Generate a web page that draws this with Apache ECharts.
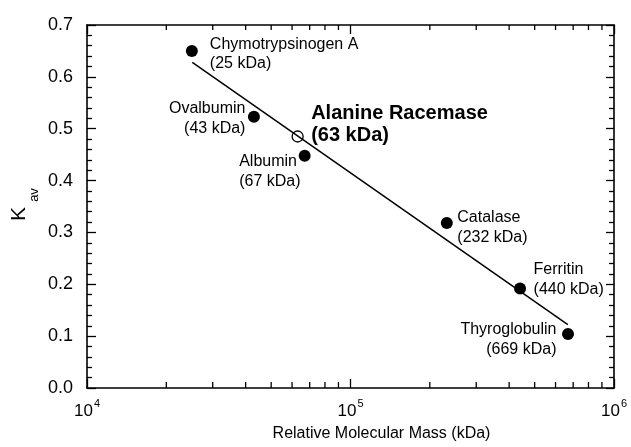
<!DOCTYPE html>
<html><head><meta charset="utf-8">
<script src="https://cdn.jsdelivr.net/npm/echarts@6.0.0/dist/echarts.min.js"></script>
<style>html,body{margin:0;padding:0;background:#fff}#c{width:631px;height:447px}</style>
</head><body><div id="c"></div>
<script>
// ---- data ----
const proteins = ['Chymotrypsinogen A', 'Ovalbumin', 'Albumin', 'Catalase', 'Ferritin', 'Thyroglobulin'];
const massKDa = [25, 43, 67, 232, 440, 669];
const kav = [0.650, 0.523, 0.448, 0.318, 0.192, 0.104];
const unknownName = 'Alanine Racemase';
const unknownMassKDa = 63;
const unknownKav = 0.485;
const fitMassKDa = [25.1, 668];
const fitKav = [0.628, 0.122];
const xMinorTicksKDa = [20, 30, 40, 50, 60, 70, 80, 90, 200, 300, 400, 500, 600, 700, 800, 900];
const xAxisName = 'Relative Molecular Mass (kDa)';
const yAxisNameMain = 'K';
const yAxisNameSub = 'av';

// ---- layout / style (kept apart from data) ----
const FONT = '"Liberation Sans", Arial, Helvetica, sans-serif';
const labelPlacement = {
  'Chymotrypsinogen A': { align: 'left', offset: [18, 3] },
  'Ovalbumin': { align: 'right', offset: [-8.5, 2] },
  'Albumin': { align: 'left', offset: [-65.5, 16] },
  'Catalase': { align: 'left', offset: [10.5, 4.5] },
  'Ferritin': { align: 'left', offset: [13.5, -9] },
  'Thyroglobulin': { align: 'right', offset: [-11.5, 5.5] }
};
const unknownPlacement = { align: 'left', offset: [13.5, -12] };

const chart = echarts.init(document.getElementById('c'), null, { renderer: 'canvas' });

const knownData = proteins.map((p, i) => ({
  value: [massKDa[i] * 1000, kav[i]],
  label: {
    show: true,
    position: 'inside',
    formatter: p + '\n(' + massKDa[i] + ' kDa)',
    align: labelPlacement[p].align,
    verticalAlign: 'middle',
    offset: labelPlacement[p].offset,
    fontSize: 16,
    lineHeight: 19.5,
    fontFamily: FONT,
    color: '#000'
  }
}));

const unknownData = [{
  value: [unknownMassKDa * 1000, unknownKav],
  label: {
    show: true,
    position: 'inside',
    formatter: unknownName + '\n(' + unknownMassKDa + ' kDa)',
    align: unknownPlacement.align,
    verticalAlign: 'middle',
    offset: unknownPlacement.offset,
    fontSize: 20,
    fontWeight: 'bold',
    lineHeight: 22.5,
    fontFamily: FONT,
    color: '#000'
  }
}];

const axisLineStyle = { color: '#000', width: 1.6 };
const tickStyle = { color: '#000', width: 1.3 };

const option = {
  animation: false,
  backgroundColor: '#fff',
  grid: { left: 87, right: 17, top: 25, bottom: 59, outerBoundsMode: 'none', containLabel: false },
  xAxis: [
    {
      type: 'log', logBase: 10, min: 1e4, max: 1e6, position: 'bottom',
      axisLine: { show: true, onZero: false, lineStyle: axisLineStyle },
      axisTick: { show: true, inside: true, length: 9, lineStyle: tickStyle },
      minorTick: { show: false },
      splitLine: { show: false },
      axisLabel: {
        margin: 10,
        formatter: v => '{b|10}{s|' + Math.round(Math.log10(v)) + '}',
        rich: {
          b: { fontSize: 17, fontFamily: FONT, color: '#000', lineHeight: 22, verticalAlign: 'bottom' },
          s: { fontSize: 11, fontFamily: FONT, color: '#000', lineHeight: 22, verticalAlign: 'top', padding: [0, 0, 10, 1] }
        }
      },
      name: xAxisName,
      nameLocation: 'middle',
      nameGap: 38,
      nameTextStyle: { fontSize: 16, fontFamily: FONT, color: '#000', padding: [0, 0, 0, 62] }
    },
    {
      type: 'log', logBase: 10, min: 1e4, max: 1e6, position: 'top',
      axisLine: { show: true, onZero: false, lineStyle: axisLineStyle },
      axisTick: { show: true, inside: true, length: 9, lineStyle: tickStyle },
      minorTick: { show: false },
      splitLine: { show: false },
      axisLabel: { show: false }
    }
  ],
  yAxis: [
    {
      type: 'value', min: 0, max: 0.7, interval: 0.1, position: 'left',
      axisLine: { show: true, lineStyle: axisLineStyle },
      axisTick: { show: true, inside: true, length: 9, lineStyle: tickStyle },
      minorTick: { show: true, splitNumber: 5, length: 5, lineStyle: tickStyle },
      splitLine: { show: false },
      axisLabel: { formatter: v => v.toFixed(1), fontSize: 18, fontFamily: FONT, color: '#000', margin: 14 }
    },
    {
      type: 'value', min: 0, max: 0.7, interval: 0.1, position: 'right',
      axisLine: { show: true, lineStyle: axisLineStyle },
      axisTick: { show: true, inside: true, length: 8, lineStyle: tickStyle },
      minorTick: { show: true, splitNumber: 5, length: 5, lineStyle: tickStyle },
      splitLine: { show: false },
      axisLabel: { show: false }
    }
  ],
  graphic: [
    { type: 'text', x: 19.5, y: 214, rotation: Math.PI / 2,
      style: { text: yAxisNameMain, fontSize: 21, fontFamily: FONT, fill: '#000', align: 'center', verticalAlign: 'middle' } },
    { type: 'text', x: 34.5, y: 195, rotation: Math.PI / 2,
      style: { text: yAxisNameSub, fontSize: 13, fontFamily: FONT, fill: '#000', align: 'center', verticalAlign: 'middle' } }
  ],
  series: [
    {
      type: 'custom', xAxisIndex: 0, yAxisIndex: 0, silent: true, clip: false, z: 3,
      data: xMinorTicksKDa.map(v => [v * 1000, 0]),
      renderItem: (params, api) => {
        const v = api.value(0);
        const b = api.coord([v, 0]);
        const t = api.coord([v, 0.7]);
        return {
          type: 'group',
          children: [
            { type: 'line', shape: { x1: b[0], y1: b[1], x2: b[0], y2: b[1] - 6 }, style: { stroke: '#000', lineWidth: 1.3 } },
            { type: 'line', shape: { x1: t[0], y1: t[1], x2: t[0], y2: t[1] + 5 }, style: { stroke: '#000', lineWidth: 1.3 } }
          ]
        };
      }
    },
    {
      type: 'line', xAxisIndex: 0, yAxisIndex: 0, silent: true, z: 2,
      data: fitMassKDa.map((m, i) => [m * 1000, fitKav[i]]),
      showSymbol: false, symbol: 'none',
      lineStyle: { color: '#000', width: 1.5 }
    },
    {
      type: 'scatter', xAxisIndex: 0, yAxisIndex: 0, silent: true, z: 4,
      symbol: 'circle', symbolSize: 12,
      itemStyle: { color: '#000', opacity: 1 },
      data: knownData
    },
    {
      type: 'scatter', xAxisIndex: 0, yAxisIndex: 0, silent: true, z: 4,
      symbol: 'circle', symbolSize: 11,
      itemStyle: { color: 'rgba(0,0,0,0)', borderColor: '#000', borderWidth: 1.3, opacity: 1 },
      data: unknownData
    }
  ]
};
chart.setOption(option);
</script>
</body></html>
